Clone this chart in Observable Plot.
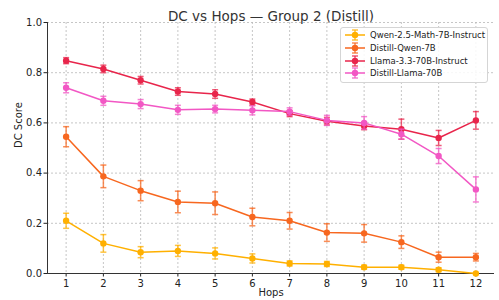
<!DOCTYPE html>
<html><head><meta charset="utf-8">
<script src="https://cdn.jsdelivr.net/npm/d3@7"></script>
<script src="https://cdn.jsdelivr.net/npm/@observablehq/plot@0.6"></script>
<style>
body{margin:0;background:#fff;font-family:"DejaVu Sans",sans-serif;}
#wrap{position:relative;width:499px;height:300px;}
#legend{position:absolute;left:340px;top:27px;width:148px;height:56px;background:rgba(255,255,255,0.85);border:1px solid #d5d5d5;border-radius:3px;box-sizing:border-box;font-size:8.5px;color:#222;}
.row{position:absolute;left:3px;height:12px;display:flex;align-items:center;white-space:nowrap;}
.row svg{margin-right:4px;flex:none;}
</style>
</head><body><div id="wrap"><div id="legend"></div></div>
<script>
const title = "DC vs Hops — Group 2 (Distill)";
const hops = [1,2,3,4,5,6,7,8,9,10,11,12];
const models = ["Qwen-2.5-Math-7B-Instruct","Distill-Qwen-7B","Llama-3.3-70B-Instruct","Distill-Llama-70B"];
const colors = ["#ffb000","#f7671f","#e8254b","#f257c4"];
const qwenMath = [0.21,0.12,0.085,0.09,0.08,0.06,0.04,0.038,0.025,0.025,0.015,0.0];
const qwenMathErr = [0.03,0.035,0.022,0.022,0.022,0.018,0.01,0.01,0.008,0.008,0.008,0.003];
const distillQwen = [0.545,0.387,0.33,0.285,0.28,0.225,0.21,0.163,0.16,0.125,0.065,0.065];
const distillQwenErr = [0.04,0.045,0.04,0.043,0.045,0.035,0.033,0.035,0.035,0.025,0.02,0.015];
const llama = [0.848,0.815,0.77,0.725,0.715,0.683,0.637,0.607,0.588,0.575,0.54,0.61];
const llamaErr = [0.012,0.015,0.015,0.015,0.017,0.012,0.012,0.015,0.015,0.04,0.03,0.035];
const distillLlama = [0.74,0.688,0.675,0.652,0.655,0.65,0.645,0.61,0.6,0.555,0.468,0.335];
const distillLlamaErr = [0.02,0.018,0.018,0.018,0.015,0.018,0.015,0.02,0.025,0.02,0.03,0.05];
const yTicks = [0,0.2,0.4,0.6,0.8,1.0];

const values = [qwenMath, distillQwen, llama, distillLlama];
const errs = [qwenMathErr, distillQwenErr, llamaErr, distillLlamaErr];
const capSymbol = {draw(ctx){ ctx.moveTo(-3,0); ctx.lineTo(3,0); }};

const seriesMarks = [];
models.forEach((m,i)=>{
  const data = hops.map((h,j)=>({hop:h, dc:values[i][j], lo:values[i][j]-errs[i][j], hi:values[i][j]+errs[i][j]}));
  const c = colors[i];
  seriesMarks.push(
    Plot.ruleX(data,{x:"hop",y1:"lo",y2:"hi",stroke:c,strokeWidth:1.5,strokeOpacity:0.75}),
    Plot.dot(data,{x:"hop",y:"lo",symbol:capSymbol,stroke:c,strokeWidth:1.5,strokeOpacity:0.75,fill:"none"}),
    Plot.dot(data,{x:"hop",y:"hi",symbol:capSymbol,stroke:c,strokeWidth:1.5,strokeOpacity:0.75,fill:"none"}),
    Plot.line(data,{x:"hop",y:"dc",stroke:c,strokeWidth:1.5}),
    Plot.dot(data,{x:"hop",y:"dc",fill:c,r:3.2,stroke:"none"})
  );
});

const chart = Plot.plot({
  width:499, height:300,
  marginLeft:47, marginRight:5, marginTop:22, marginBottom:27,
  style:{fontFamily:"DejaVu Sans, sans-serif", fontSize:"10px", color:"#222", background:"#fff"},
  x:{domain:[0.5,12.5]},
  y:{domain:[0,1]},
  marks:[
    Plot.gridY(yTicks,{stroke:"#b8b8b8",strokeOpacity:1,strokeDasharray:"2,2",strokeWidth:0.8}),
    Plot.gridX(hops,{stroke:"#b8b8b8",strokeOpacity:1,strokeDasharray:"2,2",strokeWidth:0.8}),
    Plot.axisY(yTicks,{tickFormat:d3.format(".1f"),tickSize:3.5,tickPadding:2,fontSize:10,label:null}),
    Plot.axisX(hops,{tickSize:3.5,tickPadding:3,fontSize:10,label:null}),
    Plot.text(["DC Score"],{frameAnchor:"left",dx:-29,rotate:-90,fontSize:10,fill:"#222",text:d=>d}),
    Plot.text(["Hops"],{frameAnchor:"bottom",dy:22,fontSize:10,fill:"#222",text:d=>d}),
    Plot.ruleX([0.5],{stroke:"#333",strokeWidth:1}),
    Plot.ruleY([0],{stroke:"#333",strokeWidth:1}),
    ...seriesMarks,
    Plot.text([title],{frameAnchor:"top",dy:-11,fontSize:13.5,fill:"#333",text:d=>d})
  ]
});
document.getElementById("wrap").prepend(chart);

const leg = document.getElementById("legend");
models.forEach((m,i)=>{
  const row = document.createElement("div");
  row.className="row";
  row.style.top = (1 + i*12.8) + "px";
  const c = colors[i];
  row.innerHTML = `<svg width="22" height="12"><line x1="1" x2="21" y1="6" y2="6" stroke="${c}" stroke-width="1.5"/><line x1="11" x2="11" y1="1" y2="11" stroke="${c}" stroke-width="1.5" opacity="0.75"/><line x1="8" x2="14" y1="1" y2="1" stroke="${c}" stroke-width="1.5" opacity="0.75"/><line x1="8" x2="14" y1="11" y2="11" stroke="${c}" stroke-width="1.5" opacity="0.75"/><circle cx="11" cy="6" r="3.2" fill="${c}"/></svg><span>${m}</span>`;
  leg.appendChild(row);
});
</script>
</body></html>
